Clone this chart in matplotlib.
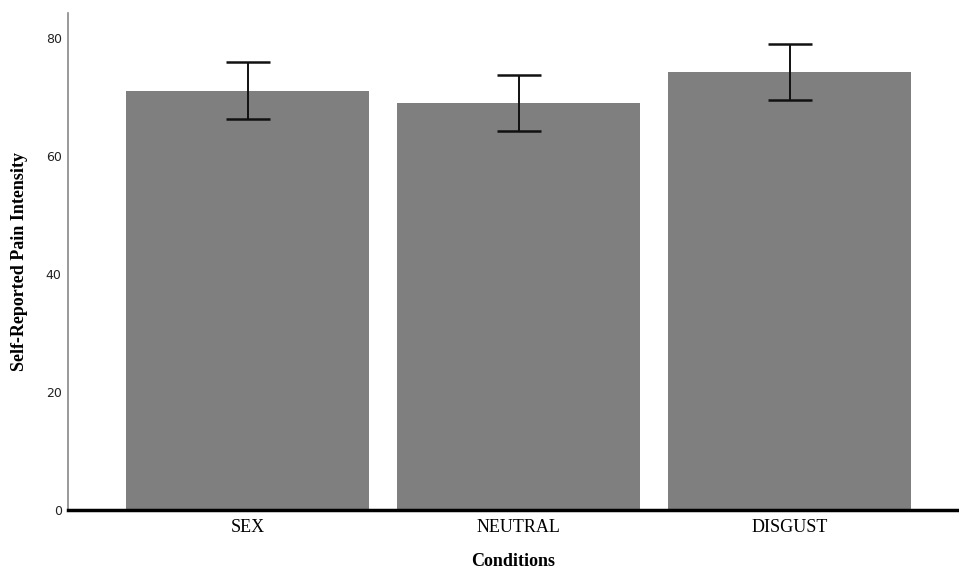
import matplotlib
matplotlib.use("Agg")
import matplotlib.pyplot as plt
import numpy as np

categories = ["SEX", "NEUTRAL", "DISGUST"]
means = [71.0, 68.9, 74.2]
ci_low = [66.2, 64.2, 69.4]
ci_high = [75.9, 73.7, 78.9]
yticks = [0, 20, 40, 60, 80]

fig = plt.figure(figsize=(9.59, 5.71), dpi=100)
ax = fig.add_axes([68/959, 1-510/571, 1-68/959, (510-13)/571])

x = np.arange(len(categories))
ax.bar(x, means, width=0.897, color="#7f7f7f", edgecolor="none", zorder=2)
yerr = [np.array(means) - np.array(ci_low), np.array(ci_high) - np.array(means)]
ax.errorbar(x, means, yerr=yerr, fmt="none", ecolor="#111111", elinewidth=1.4,
            capsize=15.8, capthick=1.8, zorder=3)

ax.set_xlim(-0.664, 2.624)
ax.set_ylim(0, 84.2)
ax.set_yticks(yticks)
ax.set_yticklabels([str(v) for v in yticks], fontsize=9, family="DejaVu Sans", color="#222222")
ax.set_xticks(x)
ax.set_xticklabels(categories, fontsize=13, family="Liberation Serif")
ax.tick_params(axis="both", length=0)
ax.tick_params(axis="y", pad=4.5)
ax.tick_params(axis="x", pad=6.5)

for s in ["top", "right"]:
    ax.spines[s].set_visible(False)
ax.spines["left"].set_color("#888888")
ax.spines["left"].set_linewidth(1.2)
ax.spines["bottom"].set_color("black")
ax.spines["bottom"].set_linewidth(2.5)
ax.spines["bottom"].set_zorder(4)

ax.set_xlabel("Conditions", fontsize=13, family="Liberation Serif", fontweight="bold", labelpad=12.5)
ax.set_ylabel("Self-Reported Pain Intensity", fontsize=13, family="Liberation Serif", fontweight="bold")
ax.yaxis.set_label_coords(-(68-28)/891, 0.5)

fig.savefig("out.png", dpi=100)
